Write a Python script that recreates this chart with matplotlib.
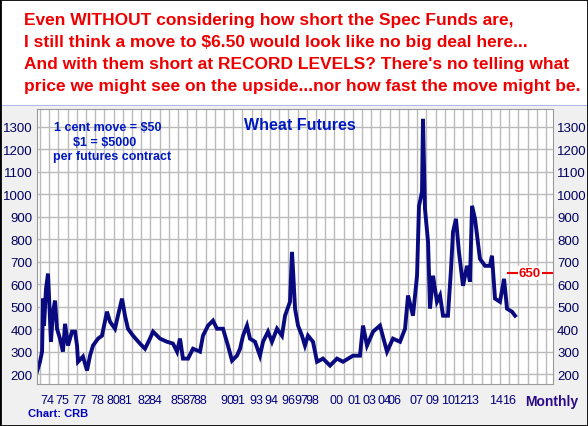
import matplotlib
matplotlib.use("Agg")
import matplotlib.pyplot as plt
import numpy as np

years = [
    73.09, 73.36, 73.55, 73.64, 73.73, 73.91, 74.09, 74.18, 74.36, 74.55,
    74.73, 74.91, 75.18, 75.45, 75.64, 75.91, 76.27, 76.55, 76.73, 76.82,
    77.27, 77.64, 77.91, 78.18, 78.64, 79.0, 79.45, 79.73, 80.18, 80.45,
    80.82, 81.09, 81.36, 81.82, 82.45, 82.91, 83.36, 83.64, 84.27, 84.91,
    85.45, 85.82, 86.09, 86.36, 86.82, 87.27, 87.91, 88.18, 88.64, 89.09,
    89.45, 90.0, 90.45, 90.82, 91.27, 91.55, 91.82, 92.18, 92.45, 92.91,
    93.36, 93.64, 94.09, 94.45, 94.91, 95.36, 95.64, 96.09, 96.27, 96.36,
    96.55, 96.82, 97.18, 97.45, 97.73, 98.18, 98.55, 99.09, 99.73, 100.36,
    100.91, 101.82, 102.45, 102.73, 103.09, 103.64, 104.27, 104.91, 105.45, 106.09,
    106.55, 106.82, 107.27, 107.64, 107.82, 108.09, 108.18, 108.36, 108.64, 108.82,
    109.09, 109.45, 109.73, 110.0, 110.45, 110.73, 110.91, 111.18, 111.45, 111.82,
    112.18, 112.45, 112.64, 112.91, 113.36, 113.82, 114.27, 114.45, 114.73, 115.18,
    115.55, 115.82, 116.27, 116.55,
]
prices = [
    211, 255, 300, 536, 416, 580, 647, 550, 344, 478,
    527, 402, 358, 300, 424, 327, 389, 389, 327, 255,
    278, 216, 282, 327, 358, 371, 478, 433, 402, 460,
    536, 460, 402, 371, 336, 313, 358, 389, 358, 344,
    336, 300, 358, 269, 269, 313, 300, 371, 416, 438,
    402, 402, 327, 260, 282, 313, 371, 416, 358, 344,
    282, 344, 389, 344, 402, 371, 460, 522, 744, 669,
    491, 416, 371, 327, 371, 344, 255, 269, 238, 269,
    255, 282, 282, 416, 327, 389, 416, 300, 358, 344,
    402, 550, 460, 638, 949, 1011, 1336, 936, 789, 491,
    638, 522, 550, 460, 460, 669, 833, 891, 744, 593,
    682, 611, 949, 891, 713, 682, 682, 727, 536, 522,
    624, 491, 478, 460,
]
x_labels = ["74", "75", "77", "78", "80", "81", "82", "84", "85", "87", "88",
            "90", "91", "93", "94", "96", "97", "98", "00", "01", "03", "04",
            "06", "07", "09", "10", "12", "13", "14", "16"]
x_label_px = [47, 62, 79, 97, 113, 125, 144, 155, 177, 189, 200,
              227, 238, 256, 271, 288, 301, 312, 337, 354, 369, 384,
              395, 416, 433, 448, 460, 472, 496, 509]
y_ticks = list(range(200, 1400, 100))
header = [
    "Even WITHOUT considering how short the Spec Funds are,",
    "I still think a move to \\$6.50 would look like no big deal here...",
    "And with them short at RECORD LEVELS? There's no telling what",
    "price we might see on the upside...nor how fast the move might be.",
]
target = 650

W, H = 588, 427
fig = plt.figure(figsize=(W / 100, H / 100), dpi=100, facecolor="#f0f0f0")

def px(x0, y0, x1, y1):
    return [x0 / W, 1 - y1 / H, (x1 - x0) / W, (y1 - y0) / H]

# header band
hdr = fig.add_axes(px(0, 0, W, 107))
hdr.set_facecolor("white")
hdr.set_xticks([]); hdr.set_yticks([])
for s in hdr.spines.values():
    s.set_visible(False)
hdr.axhline(0, color="#b0b8e8", lw=1.5)
for i, line in enumerate(header):
    fig.text(24 / W, 1 - (21 + 22 * i) / H, line, color="#ee0000",
             fontsize=12.5, fontweight="bold", family="Liberation Sans",
             va="center", ha="left")

# px -> year mapping: 1974 at px 47, 11 px / year
def yr(p):
    return 74 + (p - 47) / 11

ax = fig.add_axes(px(37, 110, 553, 385))
ax.set_facecolor("white")
ax.plot(years, prices, color="#0a0a80", lw=2.8, solid_joinstyle="miter")
ax.set_xlim(yr(37), yr(553))
ax.set_ylim(156, 1380)
ax.set_yticks(y_ticks)
ax.set_xticks(np.arange(yr(40), yr(553), 9.2 / 11), minor=False)
ax.set_xticklabels([])
ax.grid(True, color="#bbbbbb", lw=1)
ax.tick_params(axis="x", length=4, color="#bbbbbb", direction="in")
ax.tick_params(axis="y", length=0, labelsize=9.5, labelcolor="#000060",
               labelright=True, pad=3)
for lab in ax.get_yticklabels():
    lab.set_family("Liberation Sans")
for s in ax.spines.values():
    s.set_color("#999999")

for lab, p in zip(x_labels, x_label_px):
    ax.text(yr(p), -0.035, lab, transform=ax.get_xaxis_transform(),
            ha="center", va="top", fontsize=9, color="#00007a",
            family="Liberation Sans")
ax.text(yr(552), -0.035, "Monthly", transform=ax.get_xaxis_transform(),
        ha="center", va="top", fontsize=10, color="#2a0a8a",
        family="Liberation Sans", fontweight="bold")
fig.text(28 / W, 1 - 414 / H, "Chart: CRB", fontsize=8, color="#0000c0",
         fontweight="bold", family="Liberation Sans", va="center")

ax.text(yr(54), 1300, "1 cent move = \\$50", fontsize=9, color="#0018c0",
        fontweight="bold", family="Liberation Sans", va="center")
ax.text(yr(73), 1235, "\\$1 = \\$5000", fontsize=9, color="#0018c0",
        fontweight="bold", family="Liberation Sans", va="center")
ax.text(yr(53), 1170, "per futures contract", fontsize=9, color="#0018c0",
        fontweight="bold", family="Liberation Sans", va="center")
ax.text(yr(300), 1310, "Wheat Futures", fontsize=11.5, color="#0018c0",
        fontweight="bold", family="Liberation Sans", va="center", ha="center")

ax.plot([yr(508), yr(552)], [target, target], color="#ee0000", lw=1.5)
ax.text(yr(530), target, str(target), fontsize=9.5, color="#ee0000",
        fontweight="bold", family="Liberation Sans", ha="center", va="center",
        bbox=dict(facecolor="white", edgecolor="none", pad=0.5))

border = fig.add_axes([0, 0, 1, 1], facecolor="none")
border.set_xticks([]); border.set_yticks([])
for s in border.spines.values():
    s.set_color("black"); s.set_linewidth(2)

fig.savefig("out.png", dpi=100, facecolor=fig.get_facecolor())
